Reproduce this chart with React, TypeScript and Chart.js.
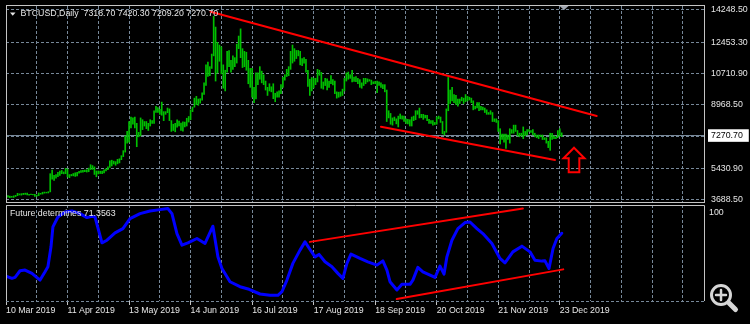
import React, { useEffect, useRef } from "react";
import { Chart, registerables } from "chart.js";

Chart.register(...registerables);

// ---------------- data ----------------
// bar index 0 = 10 Mar 2019, one bar per day, last bar (289) = 24 Dec 2019
const DATE_LABELS = [
  "10 Mar 2019", "11 Apr 2019", "13 May 2019", "14 Jun 2019", "16 Jul 2019",
  "17 Aug 2019", "18 Sep 2019", "20 Oct 2019", "21 Nov 2019", "23 Dec 2019",
];
const LABEL_EVERY = 32; // bars between date labels
const GRID_EVERY = 16; // bars between vertical grid lines

const HIGH = [
  // Mar 10-31
  3940, 3930, 3900, 3890, 3920, 3950, 4060, 4030, 4040, 4060, 4070, 4080, 4010, 4020, 4010, 4010, 3960, 4080, 4060, 4120, 4130, 4120,
  // Apr
  4150, 5150, 5350, 5060, 5100, 5220, 5300, 5330, 5250, 5450, 5410, 5100, 5110, 5160, 5200, 5230, 5280, 5320, 5340, 5350, 5370, 5460, 5650, 5600, 5530, 5300, 5300, 5290, 5300, 5360,
  // May
  5420, 5530, 5860, 5900, 5850, 5820, 5950, 5980, 6150, 6430, 7250, 7500, 8050, 8300, 8250, 8300, 7950, 7450, 8250, 8150, 8050, 8050, 7950, 8150, 8100, 8650, 8900, 8820, 8730, 9130, 8600,
  // Jun
  8600, 8800, 8750, 8100, 7900, 7950, 8150, 8070, 7970, 8040, 8020, 8230, 8330, 8700, 8850, 9350, 9450, 9300, 9320, 9650, 10200, 11200, 11350, 11100, 11800, 13900, 13300, 12450, 12300, 12200,
  // Jul
  11200, 10900, 11950, 12000, 11450, 11700, 11600, 12350, 12800, 13200, 12100, 11950, 11900, 11450, 11000, 11000, 9950, 10750, 10750, 11100, 10850, 10650, 10300, 9950, 10150, 9980, 10150, 9620, 9700, 9750, 10100,
  // Aug
  10500, 10650, 10950, 11100, 11950, 12300, 12100, 12000, 12000, 11950, 11550, 11600, 11500, 10900, 10400, 10500, 10460, 10450, 10950, 10900, 10780, 10250, 10450, 10420, 10300, 10600, 10380, 10300, 9700, 9680, 9700,
  // Sep
  9850, 10450, 10750, 10800, 10650, 10900, 10520, 10550, 10450, 10380, 10200, 10450, 10450, 10420, 10380, 10350, 10260, 10280, 10300, 10250, 10200, 10100, 10100, 9800, 8650, 8500, 8250, 8300, 8200, 8350,
  // Oct
  8470, 8360, 8350, 8200, 8170, 8150, 8300, 8350, 8650, 8650, 8800, 8450, 8450, 8400, 8400, 8170, 8100, 8100, 8000, 8300, 8350, 8300, 8050, 7500, 8750, 10500, 9800, 9950, 9550, 9500, 9300,
  // Nov
  9300, 9400, 9350, 9550, 9450, 9400, 9350, 9200, 8900, 9100, 9100, 8900, 8850, 8800, 8700, 8550, 8650, 8550, 8200, 8200, 8100, 7650, 7350, 7350, 7350, 7300, 7650, 7600, 7850, 7850,
  // Dec 1-24
  7550, 7400, 7400, 7750, 7500, 7600, 7600, 7550, 7600, 7400, 7300, 7300, 7300, 7300, 7150, 7150, 6950, 7400, 7400, 7250, 7200, 7550, 7650, 7420,
];

const LOW = [
  // Mar 10-31
  3880, 3850, 3820, 3840, 3830, 3880, 3930, 3970, 3960, 3990, 4000, 3970, 3960, 3980, 3970, 3890, 3900, 3930, 4010, 4020, 4070, 4080,
  // Apr
  4080, 4140, 4850, 4780, 4900, 4990, 5050, 5150, 5140, 5150, 4970, 4930, 5030, 5030, 5000, 5020, 5180, 5220, 5230, 5260, 5240, 5260, 5380, 5390, 5110, 4980, 5140, 5160, 5150, 5200,
  // May
  5300, 5380, 5500, 5580, 5690, 5620, 5700, 5750, 5930, 6100, 6350, 6850, 6900, 7700, 7900, 7700, 6650, 7200, 7250, 7600, 7800, 7650, 7550, 7800, 7950, 7950, 8550, 8550, 8450, 8400, 8100,
  // Jun
  8450, 8540, 8100, 7500, 7550, 7480, 7730, 7800, 7550, 7520, 7750, 7800, 8020, 8150, 8600, 8850, 8990, 8950, 9070, 9240, 9560, 10050, 10550, 10600, 11000, 11700, 10300, 10750, 11400, 10700,
  // Jul
  9900, 9750, 10800, 11100, 10800, 10950, 11100, 11300, 12100, 11600, 11050, 11100, 10900, 10150, 9950, 9400, 9100, 9300, 10100, 10400, 10200, 10100, 9800, 9500, 9750, 9700, 9320, 9150, 9400, 9400, 9600,
  // Aug
  9950, 10350, 10550, 10600, 10950, 11300, 11400, 11550, 11700, 11200, 11150, 11300, 10800, 10000, 9500, 9750, 9920, 10100, 10250, 10620, 9900, 9850, 10050, 9800, 9950, 10150, 10080, 9600, 9350, 9400, 9450,
  // Sep
  9500, 9750, 10300, 10400, 10450, 10250, 10280, 10270, 10150, 9950, 9900, 10050, 10150, 10250, 10300, 10100, 10150, 10150, 9650, 10050, 9950, 9880, 9700, 8050, 8250, 7900, 7850, 8100, 7920, 7750,
  // Oct
  8200, 8180, 8050, 7950, 7920, 7800, 7800, 8100, 8150, 8450, 8250, 8270, 8170, 8250, 8100, 7950, 7950, 7850, 7880, 7900, 8200, 8000, 7370, 7300, 7450, 8650, 9050, 9200, 9100, 9000, 8900,
  // Nov
  9050, 9200, 9050, 9150, 9200, 9250, 9100, 8700, 8750, 8800, 8650, 8700, 8700, 8550, 8450, 8450, 8450, 8050, 8050, 8000, 7500, 6800, 7050, 6900, 6550, 7050, 6850, 7400, 7400, 7500,
  // Dec 1-24
  7250, 7200, 7250, 7100, 7250, 7300, 7500, 7450, 7300, 7200, 7150, 7100, 7200, 7050, 7050, 6850, 6600, 6450, 7050, 7100, 7100, 7150, 7250, 7210,
];

const LAST_OHLC = ["7318.70", "7420.30", "7209.20", "7270.70"];
const LAST_PRICE = 7270.7;
const PRICE_LABELED = [14248.5, 12453.3, 10710.9, 8968.5, 5430.9, 3688.5];
const PRICE_GRID_ONLY = [7199.7];

// "Future determines" oscillator (0..100), sampled along the bar axis
const IND_X = [
  0, 3.1, 4.7, 7.3, 9.9, 13.5, 17.7, 20.3, 21.8, 23.4, 24.4, 27.0, 30.7, 34.3, 38.5, 42.1, 44.7, 46.3, 49.9, 52.5,
  56.7, 60.8, 64.5, 69.7, 74.9, 80.1, 84.2, 86.3, 88.9, 91.5, 94.6, 99.3, 103.5, 107.6, 110.2, 112.3, 116.5, 121.7, 126.4, 132.1,
  137.3, 141.4, 143.5, 146.1, 149.2, 152.9, 155.5, 158.1, 160.7, 162.8, 165.9, 169.5, 172.6, 175.2, 177.3, 179.4, 184.1, 188.2, 192.9, 196.0,
  198.1, 199.7, 203.3, 205.9, 210.1, 211.6, 214.2, 216.8, 223.1, 225.7, 227.8, 229.3, 231.9, 235.0, 238.7, 241.3, 244.9, 248.0, 252.7, 256.9,
  259.5, 263.6, 268.3, 272.5, 275.1, 278.7, 280.3, 282.4, 284.5, 286.5, 289,
];
const IND_V = [
  22.1, 19.5, 20.6, 28.2, 29.0, 25.2, 17.5, 27.0, 32.8, 55.7, 78.6, 90.0, 95.8, 96.9, 93.9, 89.3, 90.8, 90.0, 60.3, 63.3,
  71.7, 76.7, 88.2, 93.9, 96.9, 98.5, 99.7, 93.9, 71.0, 57.6, 60.3, 65.3, 59.6, 79.4, 44.2, 30.9, 15.6, 9.9, 6.9, 1.5,
  0, 0, 4.1, 17.5, 36.7, 51.9, 61.4, 52.7, 44.2, 47.0, 38.5, 32.8, 25.2, 19.5, 36.7, 47.3, 42.4, 38.5, 34.7, 39.6,
  29.0, 15.6, 6.1, 12.6, 12.6, 17.5, 32.1, 27.0, 20.6, 33.6, 24.4, 44.2, 63.3, 76.7, 83.6, 84.3, 76.7, 71.0, 59.6, 42.4,
  37.3, 49.9, 56.5, 49.9, 40.4, 39.3, 39.6, 30.9, 53.8, 65.3, 71.36,
];
const IND_NAME = "Future determines";
const IND_LAST = "71.3563";

// trend lines: [barIndex, value]
const TREND_MAIN_UPPER = [[106.4, 14154], [307.2, 8357]];
const TREND_MAIN_LOWER = [[195.0, 7762], [285.5, 5911]];
const TREND_IND_UPPER = [[158.1, 61.4], [268.8, 99.7]];
const TREND_IND_LOWER = [[203.2, -4.2], [289.8, 29.8]];
const ARROW_TIP = [295.4, 6595]; // [barIndex, price]
const SHIFT_BAR = 290.2;

// axis ranges
const X_MIN = 0;
const X_MAX = 363;
const Y_MIN = 3577.3;
const Y_MAX = 14470.8;
const IND_MIN = -6.55;
const IND_MAX = 103.8;

// ---------------- styles ----------------
const BG = "#000000";
const FRAME = "#c4c4c4";
const GRID = "#778899";
const TEXT = "#e6e6e6";
const BAR_GREEN = "#00c000";
const RED = "#ff0000";
const BLUE = "#0000ff";
const FONT_FAMILY = "'Liberation Sans', Arial, sans-serif";
const FONT_SIZE = 8.8;
const DASH = [3, 2];

const gridTicks = () => {
  const t: { value: number }[] = [];
  for (let v = X_MIN; v <= X_MAX; v += GRID_EVERY) t.push({ value: v });
  return t;
};
const dateLabel = (v: number) => {
  if (v % LABEL_EVERY !== 0) return "";
  return DATE_LABELS[v / LABEL_EVERY] ?? "";
};
const lineDs = (pts: number[][], color: string, width: number, order = 1) => ({
  type: "line" as const,
  data: pts.map(([x, y]) => ({ x, y })),
  borderColor: color,
  borderWidth: width,
  pointRadius: 0,
  tension: 0,
  fill: false,
  order,
  borderCapStyle: "round" as const,
  borderJoinStyle: "round" as const,
});

const mainDecor = {
  id: "mainDecor",
  afterDatasetsDraw(chart: any) {
    const { ctx, scales } = chart;
    const x = scales.x.getPixelForValue(ARROW_TIP[0]);
    const y = scales.y.getPixelForValue(ARROW_TIP[1]);
    ctx.save();
    ctx.strokeStyle = RED;
    ctx.lineWidth = 2;
    ctx.lineJoin = "miter";
    ctx.beginPath();
    ctx.moveTo(x, y);
    ctx.lineTo(x + 10.5, y + 10.6);
    ctx.lineTo(x + 5.3, y + 10.6);
    ctx.lineTo(x + 5.3, y + 24.6);
    ctx.lineTo(x - 5.3, y + 24.6);
    ctx.lineTo(x - 5.3, y + 10.6);
    ctx.lineTo(x - 10.5, y + 10.6);
    ctx.closePath();
    ctx.stroke();
    ctx.restore();
  },
  afterDraw(chart: any) {
    const { ctx, chartArea: a, scales } = chart;
    ctx.save();
    ctx.strokeStyle = FRAME;
    ctx.lineWidth = 1;
    ctx.strokeRect(Math.round(a.left) + 0.5, Math.round(a.top) - 0.5, Math.round(a.right - a.left), Math.round(a.bottom - a.top) + 1);
    // chart shift marker
    const sx = scales.x.getPixelForValue(SHIFT_BAR);
    ctx.fillStyle = "#a3a8b2";
    ctx.beginPath();
    ctx.moveTo(sx - 4.5, a.top);
    ctx.lineTo(sx + 4.5, a.top);
    ctx.lineTo(sx, a.top + 4);
    ctx.closePath();
    ctx.fill();
    // title
    ctx.fillStyle = TEXT;
    ctx.beginPath();
    ctx.moveTo(10, 12.5);
    ctx.lineTo(15.5, 12.5);
    ctx.lineTo(12.75, 15.8);
    ctx.closePath();
    ctx.fill();
    ctx.font = `${FONT_SIZE}px ${FONT_FAMILY}`;
    ctx.textBaseline = "middle";
    ctx.textAlign = "left";
    ctx.fillText(`BTCUSD,Daily  ${LAST_OHLC.join(" ")}`, 20.5, 14);
    ctx.restore();
  },
};

const indDecor = {
  id: "indDecor",
  afterDraw(chart: any) {
    const { ctx, chartArea: a } = chart;
    ctx.save();
    ctx.strokeStyle = FRAME;
    ctx.lineWidth = 1;
    const l = Math.round(a.left) + 0.5;
    const r = Math.round(a.right) + 0.5;
    const t = Math.round(a.top) + 0.5;
    const b = Math.round(a.bottom);
    ctx.beginPath();
    ctx.moveTo(l, b);
    ctx.lineTo(l, t);
    ctx.lineTo(r, t);
    ctx.lineTo(r, b);
    ctx.stroke();
    ctx.fillStyle = TEXT;
    ctx.font = `${FONT_SIZE}px ${FONT_FAMILY}`;
    ctx.textBaseline = "middle";
    ctx.textAlign = "left";
    ctx.fillText(`${IND_NAME} ${IND_LAST}`, 10, a.top + 9);
    // magnifier icon
    const cx = 721, cy = 92;
    ctx.strokeStyle = "#d6d6d6";
    ctx.lineCap = "round";
    ctx.lineWidth = 3;
    ctx.beginPath();
    ctx.arc(cx, cy, 9.5, 0, Math.PI * 2);
    ctx.stroke();
    ctx.lineWidth = 2.5;
    ctx.beginPath();
    ctx.moveTo(cx - 5, cy);
    ctx.lineTo(cx + 5, cy);
    ctx.moveTo(cx, cy - 5);
    ctx.lineTo(cx, cy + 5);
    ctx.stroke();
    ctx.lineWidth = 5;
    ctx.beginPath();
    ctx.moveTo(cx + 8, cy + 8);
    ctx.lineTo(cx + 14.5, cy + 14.5);
    ctx.stroke();
    ctx.restore();
  },
};

const tickFont = { family: FONT_FAMILY, size: FONT_SIZE, lineHeight: 1.2 };

function mainConfig(): any {
  return {
    type: "bar",
    data: {
      datasets: [
        {
          type: "bar",
          data: HIGH.map((h, i) => ({ x: i, y: [LOW[i], h] })),
          backgroundColor: BAR_GREEN,
          borderWidth: 0,
          barThickness: 1,
          grouped: false,
          order: 5,
        },
        lineDs(TREND_MAIN_UPPER, RED, 2),
        lineDs(TREND_MAIN_LOWER, RED, 2),
      ],
    },
    options: {
      responsive: false,
      devicePixelRatio: 1,
      animation: false,
      events: [],
      layout: { padding: { left: 6, right: 0, top: 6, bottom: 2 } },
      plugins: { legend: { display: false }, tooltip: { enabled: false } },
      scales: {
        x: {
          type: "linear",
          min: X_MIN,
          max: X_MAX,
          offset: false,
          afterBuildTicks: (s: any) => { s.ticks = gridTicks(); },
          afterFit: (s: any) => { s.height = 0; s.paddingLeft = 0; s.paddingRight = 0; },
          ticks: { display: false, autoSkip: false },
          grid: { color: GRID, lineWidth: 1, drawTicks: false, offset: false },
          border: { display: false, dash: DASH },
        },
        y: {
          type: "linear",
          position: "right",
          min: Y_MIN,
          max: Y_MAX,
          afterBuildTicks: (s: any) => {
            s.ticks = [...PRICE_LABELED, ...PRICE_GRID_ONLY, LAST_PRICE]
              .sort((a, b) => a - b)
              .map((v) => ({ value: v }));
          },
          afterFit: (s: any) => { s.width = 46; s.paddingTop = 0; s.paddingBottom = 0; },
          ticks: {
            autoSkip: false,
            font: tickFont,
            padding: 7,
            color: (c: any) => (c.tick && c.tick.value === LAST_PRICE ? "#000000" : TEXT),
            showLabelBackdrop: (c: any) => !!(c.tick && c.tick.value === LAST_PRICE),
            backdropColor: "#ffffff",
            backdropPadding: { left: 3, right: 6, top: 1, bottom: 1 },
            callback: (v: number) => (PRICE_LABELED.includes(v) || v === LAST_PRICE ? v.toFixed(2) : ""),
          },
          grid: { color: GRID, lineWidth: 1, drawTicks: false },
          border: {
            display: false,
            dash: (c: any) => (c.tick && c.tick.value === LAST_PRICE ? [] : DASH),
          },
        },
      },
    },
    plugins: [mainDecor],
  };
}

function indConfig(): any {
  return {
    type: "line",
    data: {
      datasets: [
        {
          data: IND_X.map((x, i) => ({ x, y: IND_V[i] })),
          borderColor: BLUE,
          borderWidth: 3,
          pointRadius: 0,
          tension: 0,
          fill: false,
          borderCapStyle: "round",
          borderJoinStyle: "round",
          order: 2,
        },
        lineDs(TREND_IND_UPPER, RED, 2),
        lineDs(TREND_IND_LOWER, RED, 2),
      ],
    },
    options: {
      responsive: false,
      devicePixelRatio: 1,
      animation: false,
      events: [],
      layout: { padding: { left: 6, right: 0, top: 2, bottom: 0 } },
      plugins: { legend: { display: false }, tooltip: { enabled: false } },
      scales: {
        x: {
          type: "linear",
          min: X_MIN,
          max: X_MAX,
          offset: false,
          afterBuildTicks: (s: any) => { s.ticks = gridTicks(); },
          afterFit: (s: any) => { s.height = 23; s.paddingLeft = 0; s.paddingRight = 0; },
          ticks: {
            autoSkip: false,
            maxRotation: 0,
            minRotation: 0,
            align: "start",
            padding: 0,
            font: tickFont,
            color: TEXT,
            callback: (v: number) => dateLabel(v),
          },
          grid: {
            color: GRID,
            lineWidth: 1,
            drawTicks: true,
            tickLength: 4,
            tickColor: (c: any) => (c.tick && dateLabel(c.tick.value) ? FRAME : "rgba(0,0,0,0)"),
          },
          border: { display: false, dash: DASH },
        },
        y: {
          type: "linear",
          position: "right",
          min: IND_MIN,
          max: IND_MAX,
          afterBuildTicks: (s: any) => { s.ticks = [{ value: IND_MIN }, { value: 100 }]; },
          afterFit: (s: any) => { s.width = 46; s.paddingTop = 0; s.paddingBottom = 0; },
          ticks: {
            autoSkip: false,
            font: tickFont,
            padding: 5,
            labelOffset: 4,
            color: TEXT,
            callback: (v: number) => (v === 100 ? "100" : ""),
          },
          grid: {
            color: (c: any) => (c.tick && c.tick.value === 100 ? "rgba(0,0,0,0)" : GRID),
            lineWidth: 1,
            drawTicks: false,
          },
          border: { display: false, dash: DASH },
        },
      },
    },
    plugins: [indDecor],
  };
}

export default function App() {
  const mainRef = useRef<HTMLCanvasElement>(null);
  const indRef = useRef<HTMLCanvasElement>(null);
  useEffect(() => {
    const main = new Chart(mainRef.current as HTMLCanvasElement, mainConfig());
    const ind = new Chart(indRef.current as HTMLCanvasElement, indConfig());
    return () => {
      main.destroy();
      ind.destroy();
    };
  }, []);
  return (
    <div style={{ position: "fixed", left: 0, top: 0, width: 750, height: 324, background: BG, overflow: "hidden" }}>
      <canvas ref={mainRef} width={750} height={204} style={{ position: "absolute", left: 0, top: 0, width: 750, height: 204, display: "block" }} />
      <canvas ref={indRef} width={750} height={121} style={{ position: "absolute", left: 0, top: 203, width: 750, height: 121, display: "block" }} />
    </div>
  );
}
